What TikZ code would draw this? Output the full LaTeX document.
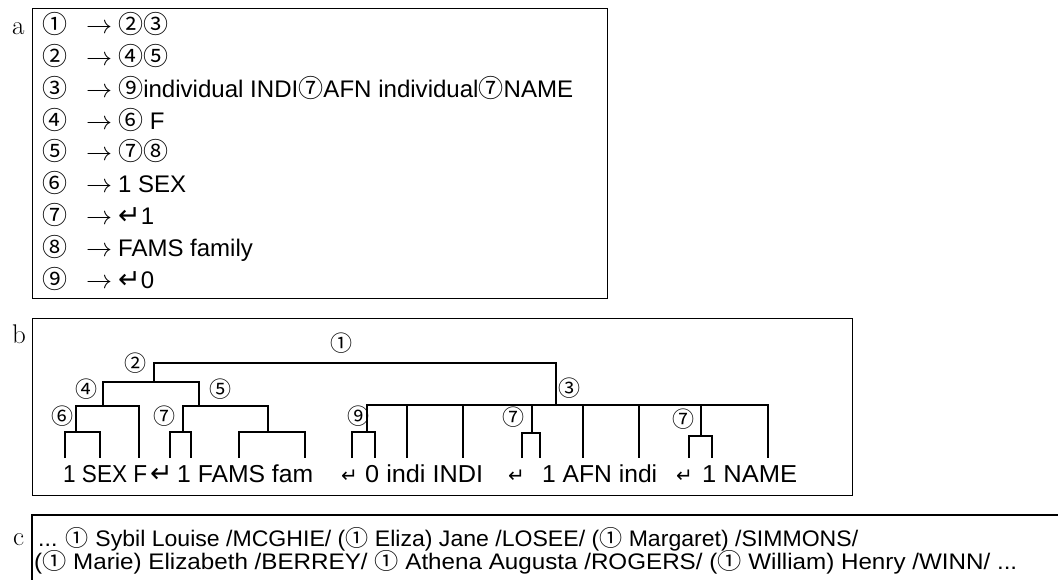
\RequirePackage{fix-cm}
\documentclass[tikz,border=0pt]{standalone}
\usepackage{fontspec}
\newfontfamily\ls{Liberation Sans}
\newfontfamily\dv{DejaVu Sans}
\newfontfamily\cjk{Noto Sans CJK JP}
\newcommand\ca[1]{{\cjk #1}}
\newcommand\cbig[1]{{\cjk\fontsize{25}{25}\selectfont #1}}
\newcommand\rt[1]{{\dv\fontsize{27}{27}\selectfont #1}}
\newcommand\arow[3]{%
  \node[acirc] (r#1c) at (55,{34+31.75*(#1-1)}) {\ca{#2}};
  \node[aarr] (r#1a) at (86,{34+31.75*(#1-1)}) {$\rightarrow$};
  \node[atxt] (r#1t) at (118,{34+31.75*(#1-1)}) {#3};}
\begin{document}
\begin{tikzpicture}[x=1pt,y=-1pt,
  frame/.style={line width=1.3pt},
  tree/.style={line width=2.6pt},
  panel/.style={inner sep=0pt,anchor=base west,font=\fontsize{27}{27}\selectfont},
  acirc/.style={inner sep=0pt,anchor=base,font=\fontsize{25}{25}\selectfont},
  aarr/.style={inner sep=0pt,anchor=base west,font=\fontsize{26}{26}\selectfont},
  atxt/.style={inner sep=0pt,anchor=base west,font=\ls\fontsize{24}{24}\selectfont},
  word/.style={inner sep=0pt,anchor=base west,font=\ls\fontsize{24.5}{24.5}\selectfont},
  retsm/.style={inner sep=0pt,anchor=base west,font=\dv\fontsize{20}{20}\selectfont},
  tlab/.style={inner sep=0pt,font=\cjk\fontsize{22}{22}\selectfont},
  ctxt/.style={inner sep=0pt,anchor=base west,font=\ls\fontsize{22.5}{22.5}\selectfont}]
\useasboundingbox (0,0) rectangle (1058,580);

% panel labels
\node[panel] (la) at (12,35) {a};
\node[panel] (lb) at (12,343) {b};
\node[panel] (lc) at (13,545) {c};

% box a
\node[draw,frame,inner sep=0pt,anchor=north west,minimum width=575pt,minimum height=290pt] (boxa) at (32,8) {};
\arow{1}{①}{\cbig{②③}}
\arow{2}{②}{\cbig{④⑤}}
\arow{3}{③}{\resizebox{455pt}{\height}{\cbig{⑨}individual INDI\cbig{⑦}AFN individual\cbig{⑦}NAME}}
\arow{4}{④}{\cbig{⑥} F}
\arow{5}{⑤}{\cbig{⑦⑧}}
\arow{6}{⑥}{1 SEX}
\arow{7}{⑦}{\rt{↵}1}
\arow{8}{⑧}{FAMS family}
\arow{9}{⑨}{\rt{↵}0}

% box b
\node[draw,frame,inner sep=0pt,anchor=north west,minimum width=820pt,minimum height=177pt] (boxb) at (32,318) {};

% words
\node[word] (g1) at (63,482) {\resizebox{84pt}{\height}{1 SEX F}};
\node[word] (gR1) at (150,482) {\rt{↵}};
\node[word] (g2) at (177,482) {\resizebox{136pt}{\height}{1 FAMS fam}};
\node[retsm] (gR2) at (341,482) {↵};
\node[word] (g3) at (365,482) {\resizebox{118pt}{\height}{0 indi INDI}};
\node[retsm] (gR3) at (508,482) {↵};
\node[word] (g4) at (542,482) {\resizebox{115pt}{\height}{1 AFN indi}};
\node[retsm] (gR4) at (676,482) {↵};
\node[word] (g5) at (702,482) {\resizebox{95pt}{\height}{1 NAME}};

% leaf tops
\coordinate (L1) at (65,458);
\coordinate (LSEX) at (100,458);
\coordinate (LF) at (139,458);
\coordinate (LR1) at (170,458);
\coordinate (L1b) at (191,458);
\coordinate (LFAMS) at (239,458);
\coordinate (Lfam) at (305,458);
\coordinate (LR2) at (352,458);
\coordinate (L0) at (375,458);
\coordinate (Lindi) at (407,458);
\coordinate (LINDI) at (463,458);
\coordinate (LR3) at (522,458);
\coordinate (L1c) at (540,458);
\coordinate (LAFN) at (583,458);
\coordinate (Lindi2) at (639,458);
\coordinate (LR4) at (689,458);
\coordinate (L1d) at (712,458);
\coordinate (LNAME) at (768,458);

% junctions
\coordinate (N1h) at (355,363);
\coordinate (N2) at (154,382);
\coordinate (N3) at (556,405);
\coordinate (N4) at (103,406);
\coordinate (N5) at (199,406);
\coordinate (N6) at (76,432);
\coordinate (N7a) at (183,432);
\coordinate (N8) at (268,432);
\coordinate (N9) at (367,432);
\coordinate (N7b) at (532,433);
\coordinate (N7c) at (701,436);

\draw[tree] (N2) |- (N1h) -| (N3);
\draw[tree] (N4) |- (N2) -| (N5);
\draw[tree] (N6) |- (N4) -| (LF);
\draw[tree] (L1) |- (N6) -| (LSEX);
\draw[tree] (N7a) |- (N5) -| (N8);
\draw[tree] (LR1) |- (N7a) -| (L1b);
\draw[tree] (LFAMS) |- (N8) -| (Lfam);
\draw[tree] (N9) |- (N3) -| (LNAME);
\foreach \c in {Lindi,LINDI,N7b,LAFN,Lindi2,N7c} \draw[tree] (\c |- N3) -- (\c);
\draw[tree] (LR2) |- (N9) -| (L0);
\draw[tree] (LR3) |- (N7b) -| (L1c);
\draw[tree] (LR4) |- (N7c) -| (L1d);

% tree labels
\node[tlab] (t1) at (341,343) {①};
\node[tlab] (t2) at (135,363) {②};
\node[tlab] (t3) at (569,388) {③};
\node[tlab] (t4) at (86,389) {④};
\node[tlab] (t5) at (220,389) {⑤};
\node[tlab] (t6) at (62,416) {⑥};
\node[tlab] (t7a) at (164,416) {⑦};
\node[tlab] (t9) at (358,416) {⑨};
\node[tlab] (t7b) at (513,417) {⑦};
\node[tlab] (t7c) at (683,419) {⑦};

% box c (open)
\coordinate (cTR) at (1058,515);
\coordinate (cTL) at (32,515);
\coordinate (cBL) at (32,580);
\draw[frame] (cTR) -- (cTL) -- (cBL);
\node[ctxt] (c1) at (38,546) {\resizebox{820pt}{\height}{... \ca{①} Sybil Louise /MCGHIE/ (\ca{①} Eliza) Jane /LOSEE/ (\ca{①} Margaret) /SIMMONS/}};
\node[ctxt] (c2) at (34,569) {\resizebox{983pt}{\height}{(\ca{①} Marie) Elizabeth /BERREY/ \ca{①} Athena Augusta /ROGERS/ (\ca{①} William) Henry /WINN/ ...}};
\end{tikzpicture}
\end{document}
